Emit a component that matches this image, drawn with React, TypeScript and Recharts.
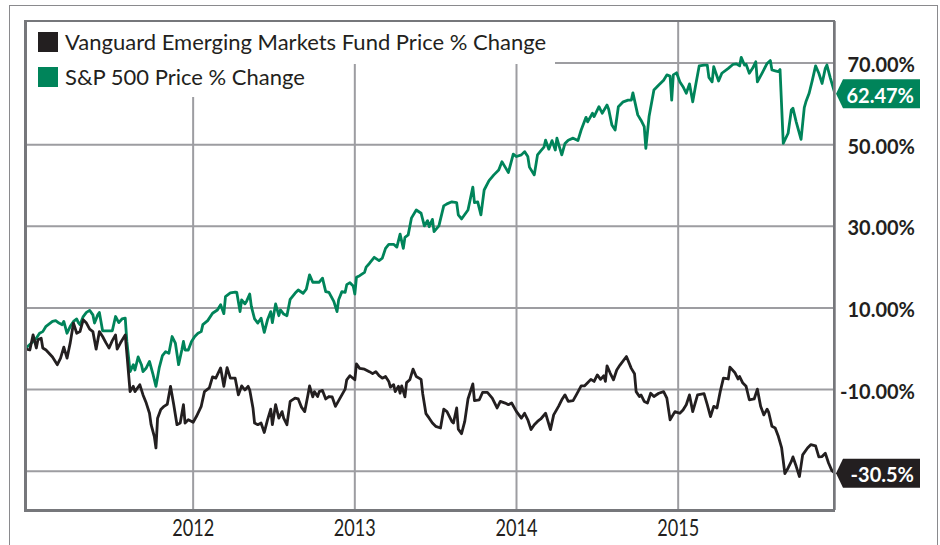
import React from "react";
import { LineChart, Line, XAxis, YAxis, CartesianGrid } from "recharts";

const GREEN = "#00845a";
const INK = "#231f20";
const GRID = "#9d9da1";
const FRAME = "#76777b";

const yearTicks = [2012, 2013, 2014, 2015];
const pctTicks = [-30, -10, 10, 30, 50, 70];

const spLabel = "62.47%";
const emLabel = "-30.5%";

// S&P 500 price % change (weekly-ish)
const spDates = [
  2010.96, 2011.0, 2011.03, 2011.05, 2011.07, 2011.09, 2011.13, 2011.15, 2011.17, 2011.19, 2011.2, 2011.22, 2011.24,
  2011.26, 2011.28, 2011.29, 2011.3, 2011.32, 2011.34, 2011.36, 2011.38, 2011.39, 2011.41, 2011.42, 2011.44, 2011.47,
  2011.5, 2011.52, 2011.54, 2011.56, 2011.58, 2011.59, 2011.61, 2011.63, 2011.64, 2011.66, 2011.68, 2011.69, 2011.71,
  2011.73, 2011.75, 2011.77, 2011.79, 2011.81, 2011.83, 2011.85, 2011.87, 2011.89, 2011.91, 2011.93, 2011.94, 2011.95,
  2011.97, 2011.99, 2012.01, 2012.03, 2012.05, 2012.06, 2012.09, 2012.12, 2012.15, 2012.17, 2012.19, 2012.2, 2012.23,
  2012.26, 2012.27, 2012.29, 2012.3, 2012.32, 2012.33, 2012.35, 2012.36, 2012.38, 2012.4, 2012.42, 2012.44, 2012.46,
  2012.48, 2012.49, 2012.51, 2012.53, 2012.54, 2012.56, 2012.58, 2012.6, 2012.63, 2012.65, 2012.68, 2012.7, 2012.72,
  2012.74, 2012.78, 2012.8, 2012.82, 2012.84, 2012.87, 2012.89, 2012.9, 2012.92, 2012.94, 2012.95, 2012.97, 2012.99,
  2013.0, 2013.01, 2013.03, 2013.06, 2013.07, 2013.09, 2013.12, 2013.15, 2013.17, 2013.19, 2013.21, 2013.24, 2013.26,
  2013.28, 2013.3, 2013.31, 2013.33, 2013.35, 2013.38, 2013.41, 2013.43, 2013.45, 2013.46, 2013.48, 2013.49, 2013.52,
  2013.55, 2013.57, 2013.6, 2013.63, 2013.64, 2013.66, 2013.7, 2013.73, 2013.74, 2013.76, 2013.78, 2013.8, 2013.83,
  2013.86, 2013.89, 2013.91, 2013.93, 2013.95, 2013.98, 2014.0, 2014.03, 2014.05, 2014.07, 2014.08, 2014.11, 2014.13,
  2014.15, 2014.17, 2014.18, 2014.2, 2014.22, 2014.24, 2014.25, 2014.26, 2014.28, 2014.3, 2014.32, 2014.35, 2014.38,
  2014.4, 2014.43, 2014.44, 2014.47, 2014.48, 2014.51, 2014.53, 2014.56, 2014.57, 2014.59, 2014.61, 2014.63, 2014.66,
  2014.69, 2014.71, 2014.72, 2014.75, 2014.77, 2014.79, 2014.8, 2014.82, 2014.85, 2014.88, 2014.91, 2014.93, 2014.95,
  2014.96, 2014.97, 2014.99, 2015.01, 2015.03, 2015.05, 2015.07, 2015.09, 2015.11, 2015.13, 2015.16, 2015.18, 2015.19,
  2015.21, 2015.22, 2015.25, 2015.27, 2015.31, 2015.34, 2015.36, 2015.38, 2015.39, 2015.41, 2015.42, 2015.44, 2015.46,
  2015.48, 2015.49, 2015.52, 2015.55, 2015.57, 2015.58, 2015.6, 2015.62, 2015.63, 2015.65, 2015.68, 2015.7, 2015.71,
  2015.73, 2015.76, 2015.78, 2015.79, 2015.81, 2015.83, 2015.85, 2015.87, 2015.89, 2015.91, 2015.92, 2015.94, 2015.97,
];
const spPct = [
  0, 1.4, 2.6, 3.8, 4.2, 5.5, 6.7, 6.9, 6.3, 5.9, 6.7, 3.8, 5.5,
  6.7, 7.3, 6.4, 5.9, 7.9, 8.9, 9.4, 8.3, 6.3, 8.3, 8.9, 4.4, 4.4,
  4.4, 7.9, 6.4, 7.3, 7.5, 1.8, -5.6, -3.9, -5.2, -2.0, -3.9, -5.6, -4.7,
  -3.1, -6.0, -9.2, -4.7, -1.7, -0.7, -1.1, 3.0, 1.4, -3.9, -0.3, 1.8, -0.3,
  -0.3, 1.8, 3.0, 3.8, 4.2, 5.9, 6.9, 8.7, 9.5, 10.8, 8.6, 12.8, 13.7,
  13.9, 13.8, 9.1, 12.0, 11.0, 11.6, 13.4, 10.4, 7.3, 6.3, 7.5, 4.0, 7.1,
  9.1, 6.4, 11.0, 8.1, 9.5, 8.5, 8.1, 12.1, 13.6, 14.4, 13.6, 14.6, 18.1,
  16.3, 16.3, 17.3, 14.0, 13.8, 11.6, 9.1, 12.0, 14.0, 13.8, 15.7, 16.2, 15.4,
  13.4, 17.5, 17.9, 18.7, 20.0, 20.9, 22.4, 21.6, 22.2, 24.6, 25.6, 25.6, 24.9,
  28.1, 24.6, 27.3, 27.9, 32.0, 34.0, 33.2, 30.1, 31.4, 29.9, 31.7, 28.7, 30.1,
  35.0, 35.5, 36.0, 35.8, 32.8, 31.8, 34.0, 39.6, 35.8, 36.0, 32.8, 38.9, 41.2,
  42.6, 43.8, 45.8, 44.5, 43.2, 47.7, 47.1, 47.5, 48.3, 47.1, 44.5, 42.6, 47.5,
  48.5, 49.4, 51.1, 48.9, 51.0, 48.7, 51.6, 50.2, 47.5, 50.3, 51.1, 51.6, 51.0,
  53.6, 56.7, 55.6, 57.7, 56.9, 59.3, 57.7, 59.7, 58.7, 54.8, 53.6, 59.3, 60.5,
  60.9, 60.9, 62.7, 57.3, 56.0, 54.4, 49.1, 56.9, 63.4, 64.6, 65.8, 67.1, 66.8,
  60.9, 67.1, 67.6, 65.4, 64.2, 62.6, 64.9, 60.5, 65.0, 69.3, 69.5, 69.5, 66.5,
  65.4, 69.1, 65.6, 67.5, 68.7, 69.7, 69.8, 69.3, 71.4, 69.5, 69.7, 67.5, 68.7,
  70.3, 65.4, 67.6, 69.9, 70.6, 68.3, 68.1, 67.9, 68.4, 50.3, 52.8, 58.5, 58.9,
  55.6, 51.3, 59.1, 60.5, 62.6, 65.8, 69.3, 67.5, 65.0, 68.7, 69.5, 66.5, 62.47,
];

// Vanguard Emerging Markets Fund price % change
const emDates = [
  2010.96, 2010.99, 2011.01, 2011.03, 2011.04, 2011.06, 2011.07, 2011.09, 2011.13, 2011.16, 2011.18, 2011.2, 2011.22,
  2011.24, 2011.26, 2011.28, 2011.3, 2011.32, 2011.34, 2011.36, 2011.38, 2011.4, 2011.42, 2011.44, 2011.46, 2011.48,
  2011.5, 2011.52, 2011.53, 2011.55, 2011.58, 2011.59, 2011.61, 2011.63, 2011.64, 2011.67, 2011.69, 2011.71, 2011.73,
  2011.74, 2011.76, 2011.77, 2011.78, 2011.8, 2011.82, 2011.84, 2011.86, 2011.88, 2011.9, 2011.92, 2011.94, 2011.95,
  2011.97, 2012.0, 2012.02, 2012.05, 2012.07, 2012.1, 2012.12, 2012.14, 2012.17, 2012.19, 2012.21, 2012.23, 2012.26,
  2012.28, 2012.3, 2012.32, 2012.34, 2012.35, 2012.37, 2012.38, 2012.4, 2012.42, 2012.44, 2012.46, 2012.48, 2012.49,
  2012.51, 2012.53, 2012.55, 2012.56, 2012.58, 2012.6, 2012.63, 2012.65, 2012.67, 2012.69, 2012.71, 2012.72, 2012.74,
  2012.75, 2012.77, 2012.78, 2012.8, 2012.82, 2012.84, 2012.86, 2012.88, 2012.9, 2012.92, 2012.94, 2012.95, 2012.97,
  2013.0, 2013.01, 2013.03, 2013.06, 2013.09, 2013.11, 2013.13, 2013.15, 2013.17, 2013.19, 2013.21, 2013.22, 2013.24,
  2013.25, 2013.27, 2013.28, 2013.29, 2013.31, 2013.32, 2013.34, 2013.36, 2013.38, 2013.41, 2013.42, 2013.44, 2013.46,
  2013.48, 2013.5, 2013.53, 2013.55, 2013.57, 2013.6, 2013.61, 2013.63, 2013.64, 2013.66, 2013.68, 2013.7, 2013.73,
  2013.74, 2013.77, 2013.79, 2013.82, 2013.85, 2013.88, 2013.9, 2013.93, 2013.95, 2013.97, 2014.0, 2014.03, 2014.05,
  2014.07, 2014.09, 2014.11, 2014.13, 2014.15, 2014.18, 2014.21, 2014.23, 2014.26, 2014.28, 2014.3, 2014.32, 2014.35,
  2014.37, 2014.4, 2014.42, 2014.44, 2014.46, 2014.48, 2014.5, 2014.52, 2014.54, 2014.55, 2014.56, 2014.58, 2014.6,
  2014.62, 2014.64, 2014.68, 2014.71, 2014.73, 2014.74, 2014.76, 2014.77, 2014.79, 2014.81, 2014.83, 2014.85, 2014.88,
  2014.91, 2014.93, 2014.95, 2014.98, 2015.01, 2015.03, 2015.05, 2015.07, 2015.09, 2015.12, 2015.16, 2015.18, 2015.2,
  2015.22, 2015.24, 2015.26, 2015.28, 2015.31, 2015.32, 2015.35, 2015.37, 2015.38, 2015.4, 2015.42, 2015.44, 2015.47,
  2015.49, 2015.51, 2015.53, 2015.55, 2015.56, 2015.58, 2015.6, 2015.62, 2015.64, 2015.66, 2015.68, 2015.7, 2015.71,
  2015.73, 2015.75, 2015.77, 2015.8, 2015.82, 2015.85, 2015.87, 2015.89, 2015.91, 2015.93, 2015.95, 2015.97,
];
const emPct = [
  0, -0.3, 3.4, 0.2, 2.2, 2.6, 0.2, -0.3, -2.0, -3.9, -2.3, 0.4, -2.3,
  1.5, 6.3, 3.8, 4.2, 7.1, 6.3, 4.8, 4.2, -0.1, 4.2, 3.0, 1.5, 0.2,
  2.0, 3.4, -0.1, 1.4, 3.4, -1.1, -10.5, -9.2, -10.5, -8.8, -11.3, -13.3, -15.8,
  -18.6, -21.5, -24.3, -17.0, -14.9, -14.1, -13.6, -9.2, -13.7, -18.6, -18.2, -13.7, -18.2,
  -17.4, -18.0, -16.6, -14.1, -10.5, -9.6, -6.9, -7.2, -4.7, -9.2, -4.6, -7.2, -7.2,
  -11.3, -9.1, -10.1, -9.2, -10.1, -14.5, -18.2, -18.6, -18.2, -20.5, -17.4, -14.8, -18.6,
  -13.7, -17.0, -15.4, -17.0, -18.6, -12.9, -12.1, -12.3, -14.3, -15.4, -11.3, -9.1, -11.8,
  -10.5, -11.7, -10.5, -10.2, -12.3, -11.7, -11.8, -14.1, -12.7, -11.3, -9.9, -7.6, -6.6,
  -7.6, -3.7, -4.8, -5.0, -5.6, -6.1, -5.6, -6.6, -7.2, -6.8, -8.0, -9.4, -8.8,
  -10.5, -9.2, -10.9, -9.1, -11.8, -8.3, -7.6, -5.0, -6.8, -7.5, -11.0, -15.9, -17.0,
  -18.2, -19.0, -19.4, -14.8, -15.4, -17.8, -18.2, -14.5, -19.7, -20.8, -17.8, -12.3, -8.6,
  -12.7, -12.5, -10.7, -10.7, -12.1, -14.5, -12.9, -13.3, -13.7, -13.3, -15.4, -17.0, -15.8,
  -17.4, -19.8, -18.6, -17.8, -17.2, -15.8, -19.8, -16.2, -14.1, -12.5, -11.3, -12.9, -12.7,
  -11.3, -9.1, -9.1, -8.3, -7.5, -8.0, -6.4, -7.5, -6.6, -8.0, -4.2, -6.0, -7.6,
  -5.2, -4.0, -1.9, -4.8, -6.1, -10.5, -11.7, -11.3, -12.9, -13.3, -10.9, -11.7, -10.9,
  -10.5, -12.1, -17.4, -15.4, -15.8, -15.0, -13.7, -11.3, -15.4, -11.3, -11.0, -13.7, -16.6,
  -14.1, -14.5, -10.5, -7.2, -7.4, -4.5, -5.8, -7.4, -6.8, -8.4, -9.2, -12.5, -12.3,
  -9.9, -14.1, -16.2, -14.8, -15.6, -19.0, -19.4, -21.5, -24.3, -30.6, -29.2, -27.6, -26.5,
  -28.8, -31.3, -26.0, -24.3, -23.5, -23.8, -26.5, -26.4, -25.6, -28.0, -29.8, -30.5,
];

const spData = spDates.map((t, i) => ({ t, v: spPct[i] }));
const emData = emDates.map((t, i) => ({ t, v: emPct[i] }));
const endValues = [spPct[spPct.length - 1], emPct[emPct.length - 1]];

const FONT = "Lato, 'Open Sans', sans-serif";

function YearTick(p: any) {
  return (
    <text x={p.x} y={p.y + 9} textAnchor="middle" dominantBaseline="central" fontFamily={FONT}
      fontSize={23} fill={INK} textLength={42} lengthAdjust="spacingAndGlyphs">
      {p.payload.value}
    </text>
  );
}

// the end-value tags sit on top of the axis, so a tick they cover is not drawn
function PctTick(p: any) {
  const v = Number(p.payload.value);
  if (endValues.some((e) => Math.abs(e - v) < 3.6)) return <g />;
  return (
    <text x={p.x + 78} y={p.y + 1} textAnchor="end" dominantBaseline="central" fontFamily={FONT}
      fontSize={20} fontWeight={700} fill={INK}>
      {`${v.toFixed(2)}%`}
    </text>
  );
}

function Tag({ cx, cy, fill, text }: { cx: number; cy: number; fill: string; text: string }) {
  const h = 14.5;
  return (
    <g>
      <path d={`M${cx + 1},${cy} L${cx + 8},${cy - h} L${cx + 85},${cy - h} L${cx + 85},${cy + h} L${cx + 8},${cy + h} Z`} fill={fill} />
      <text x={cx + 79} y={cy + 1} textAnchor="end" dominantBaseline="central" fontFamily={FONT}
        fontSize={20} fontWeight={700} fill="#fff">
        {text}
      </text>
    </g>
  );
}

const endTag = (n: number, fill: string, text: string) => (p: any) =>
  p.index === n - 1 ? <Tag cx={p.x} cy={p.y} fill={fill} text={text} /> : <g />;

const legendText: React.CSSProperties = {
  position: "absolute", fontFamily: FONT, fontSize: 22, color: INK, whiteSpace: "nowrap", lineHeight: "24px",
};

export default function App() {
  return (
    <div style={{ position: "absolute", left: 0, top: 0, width: 940, height: 545, background: "#fff", overflow: "hidden" }}>
      <LineChart width={940} height={545} margin={{ top: 21, right: 5, bottom: 0, left: 25 }}>
        <CartesianGrid stroke={GRID} strokeWidth={2} />
        <XAxis dataKey="t" type="number" domain={[2010.96, 2015.97]} ticks={yearTicks} allowDataOverflow
          axisLine={false} tickLine={false} height={35} tick={<YearTick />} />
        <YAxis orientation="right" type="number" domain={[-39.5, 80.3]} ticks={pctTicks} allowDataOverflow
          axisLine={false} tickLine={false} tickSize={0} width={100} tick={<PctTick />} />
        <Line data={spData} dataKey="v" type="linear" stroke={GREEN} strokeWidth={2.8} strokeLinejoin="round"
          dot={false} isAnimationActive={false} label={endTag(spData.length, GREEN, spLabel)} />
        <Line data={emData} dataKey="v" type="linear" stroke={INK} strokeWidth={2.8} strokeLinejoin="round"
          dot={false} isAnimationActive={false} label={endTag(emData.length, INK, emLabel)} />
      </LineChart>

      {/* legend: each row has its own white backing over the grid */}
      <div style={{ position: "absolute", left: 26, top: 22, width: 529, height: 42, background: "#fff" }} />
      <div style={{ position: "absolute", left: 26, top: 64, width: 280, height: 33, background: "#fff" }} />
      <div style={{ position: "absolute", left: 38, top: 32, width: 20, height: 20, background: INK }} />
      <div style={{ ...legendText, left: 65, top: 30 }}>Vanguard Emerging Markets Fund Price % Change</div>
      <div style={{ position: "absolute", left: 38, top: 67, width: 20, height: 20, background: GREEN }} />
      <div style={{ ...legendText, left: 65, top: 65 }}>S&amp;P 500 Price % Change</div>

      {/* plot frame and outer frame */}
      <div style={{
        position: "absolute", left: 24, top: 20, width: 811, height: 492, boxSizing: "border-box",
        borderStyle: "solid", borderColor: FRAME, borderWidth: "2px 2px 3px 3px", pointerEvents: "none",
      }} />
      <div style={{
        position: "absolute", left: 9, top: 5, width: 929, height: 600, boxSizing: "border-box",
        border: "1.5px solid #8a8a8d", pointerEvents: "none",
      }} />
    </div>
  );
}
